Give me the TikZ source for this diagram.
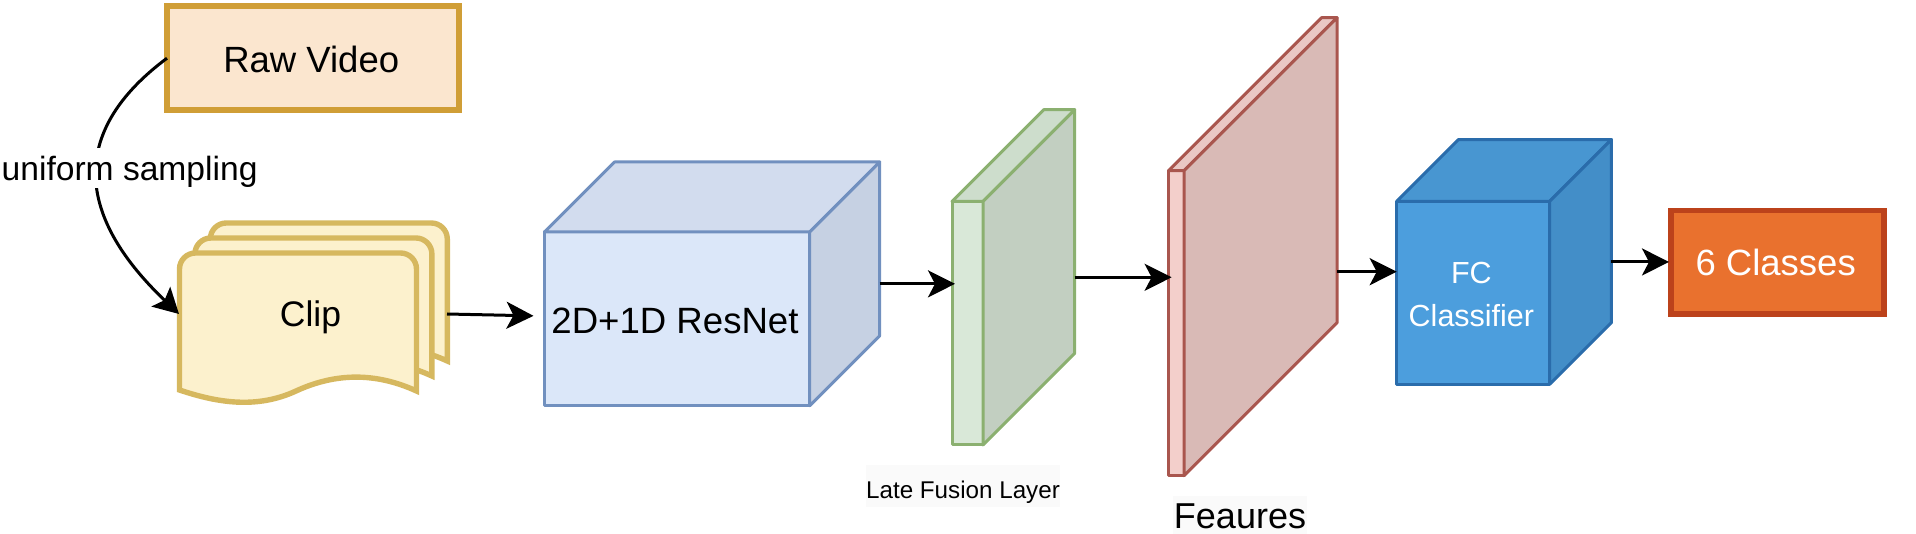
\documentclass[tikz,border=0pt]{standalone}
\usepackage{fontspec}
\setmainfont{Liberation Sans}
\usetikzlibrary{arrows.meta}

\definecolor{rawline}{HTML}{D09E36}
\definecolor{rawfill}{HTML}{FBE6CF}
\definecolor{clipline}{HTML}{D6B85F}
\definecolor{clipfill}{HTML}{FCF1CD}
\definecolor{outline}{HTML}{BC421B}
\definecolor{outfill}{HTML}{E9712E}
\definecolor{resnetline}{HTML}{7190BF}
\definecolor{resnetfront}{HTML}{DBE7F9}
\definecolor{resnettop}{HTML}{D2DCEE}
\definecolor{resnetside}{HTML}{C6D1E3}
\definecolor{fusionline}{HTML}{8BB070}
\definecolor{fusionfront}{HTML}{D9E8D8}
\definecolor{fusiontop}{HTML}{CDDDCC}
\definecolor{fusionside}{HTML}{C2CFC1}
\definecolor{featline}{HTML}{A9564E}
\definecolor{featfront}{HTML}{F3CFCB}
\definecolor{feattop}{HTML}{EAC8C4}
\definecolor{featside}{HTML}{D9BAB6}
\definecolor{fcline}{HTML}{2A6CAB}
\definecolor{fcfront}{HTML}{4C9EDD}
\definecolor{fctop}{HTML}{4896D1}
\definecolor{fcside}{HTML}{438EC8}

\tikzset{
	flow/.style={-{Stealth[length=27pt,width=27pt,inset=7pt]}, line width=3pt},
	plainbox/.style={rectangle, outer sep=0pt, inner sep=0pt, line width=5.6pt},
	layerhull/.style={rectangle, outer sep=0pt, inner sep=0pt, anchor=north west},
	layerface/.style={draw=#1line, line width=3pt, line join=round},
	sheet/.style={draw=clipline, fill=clipfill, line width=5.4pt},
	body/.style={font=\fontsize{36.5}{43}\selectfont}
}

% cuboid: name, x, y, front width, front height, depth, palette
\newcommand{\layerbox}[7]{
	\node[layerhull, minimum width={(#4+#6)*1pt}, minimum height={(#5+#6)*1pt}] (#1) at (#2,#3) {};
	\filldraw[layerface=#7, fill=#7front]
	(#2,#3+#6) --
	++ (#4,0) --
	++ (0,#5) --
	++ (-#4,0) --
	cycle;
	\filldraw[layerface=#7, fill=#7top]
	(#2,#3+#6) --
	++ (#6,-#6) --
	++ (#4,0) --
	++ (-#6,#6) --
	cycle;
	\filldraw[layerface=#7, fill=#7side]
	(#2+#4,#3+#6) --
	++ (#6,-#6) --
	++ (0,#5) --
	++ (-#6,#6) --
	cycle;
}

\begin{document}
\begin{tikzpicture}[x=1pt, y=-1pt]
	\useasboundingbox (0,0) rectangle (1916,534);

	\node[plainbox, body, draw=rawline, fill=rawfill, minimum width=292pt, minimum height=103.8pt, text height=28pt] (video) at (313,58.2) {Raw Video\kern3.6pt};

	% the three sheets of the clip, back one first
	\foreach \sheetno in {2,1,0} {
		\begin{scope}[shift={(15.4*\sheetno,-15*\sheetno)}]
			\filldraw[sheet]
			(179.5,390) [rounded corners=16pt] --
			(179.5,253) --
			(416.5,253) --
			(416.5,300) [sharp corners] --
			(416.5,391) .. controls (375,372) and (335,373) .. (296,391)
			.. controls (257,409) and (218,403) .. (179.5,390) --
			cycle;
		\end{scope}
	}
	\node[layerhull, anchor=center, minimum width=268pt, minimum height=178pt] (clip) at (313,314) {};
	\node[body, font=\fontsize{35.5}{43}\selectfont] (clipname) at (310.5,317.5) {Clip};

	\layerbox{resnet}{544.5}{162}{265.2}{173.7}{70}{resnet}
	\layerbox{fusion}{952}{109.7}{31}{243.5}{91.7}{fusion}
	\layerbox{feature}{1168.6}{17.7}{15.5}{305}{153}{feat}
	\layerbox{fc}{1396.7}{139.6}{153}{183}{61.7}{fc}

	\node[plainbox, body, draw=outline, fill=outfill, text=white, minimum width=213pt, minimum height=103.5pt] (classes) at (1777.5,262.3) {6 Classes\kern3.6pt};

	\node[font=\fontsize{36.6}{43}\selectfont] (resnetname) at (675,321) {2D+1D ResNet};
	\node[align=center, text=white, font=\fontsize{30.5}{43.5}\selectfont] (fcname) at (1471.4,294.5) {FC\\Classifier};

	\draw[flow, -{Stealth[length=25pt,width=27pt,inset=5pt]}] (video.west) .. controls (72,129) and (72,212) .. (clip.west);
	\node[fill=white, inner sep=0pt, text height=32.4pt, text depth=7.6pt, font=\fontsize{33.6}{40}\selectfont] (sampling) at (129.6,168) {uniform sampling};

	\draw[flow] (clip.east) -- ([xshift=-11pt,yshift=-32pt]resnet.west);
	\draw[flow, shorten >=-3pt] (resnet.east) -- (resnet.east -| fusion.west);
	\draw[flow, shorten >=-3pt] (fusion.east) -- (fusion.east -| feature.west);
	\draw[flow] ([yshift=-25pt]feature.east) -- ([yshift=-25pt]feature.east -| fc.west);
	\draw[flow, shorten >=2pt] (fc.east) -- (fc.east -| classes.west);

	\node[fill=white!98!black, inner sep=0pt, minimum width=194pt, text height=34pt, text depth=8.5pt, font=\fontsize{24.2}{29}\selectfont] (fusionname) at (963,486.2) {Late Fusion Layer};
	\node[fill=white!98!black, inner sep=0pt, minimum width=134pt, text height=32.4pt, text depth=6pt, font=\fontsize{36}{43}\selectfont] (featname) at (1240,514.8) {Feaures};
\end{tikzpicture}
\end{document}
